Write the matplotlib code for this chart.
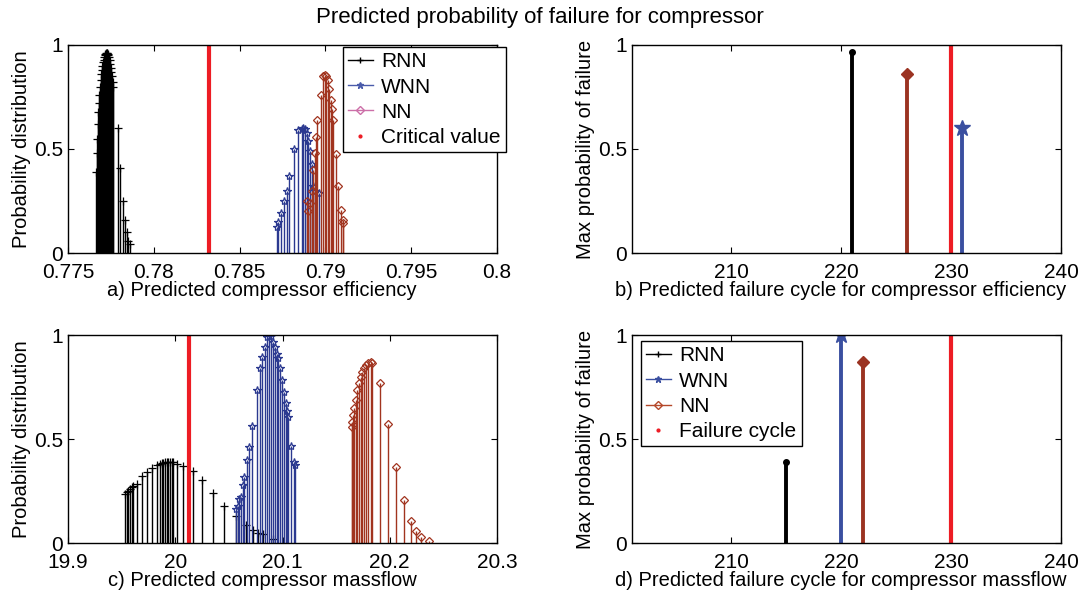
import numpy as np
from matplotlib import pyplot as plt
from matplotlib.lines import Line2D

plt.rcParams.update({'font.family': 'Liberation Sans'})

# colours
C_RNN = 'black'
C_WNN = '#2B3990'
C_NN = '#A1341F'
C_RED = '#ED1C24'

# a) predicted compressor efficiency
eff_rnn_x = [0.77663, 0.77666, 0.77670, 0.77673, 0.77676, 0.77680, 0.77683, 0.77686, 0.77690,
             0.77693, 0.77697, 0.77700, 0.77704, 0.77707, 0.77711, 0.77714, 0.77718, 0.77721,
             0.77725, 0.77728, 0.77732, 0.77735, 0.77739, 0.77742, 0.77746, 0.77749, 0.77753,
             0.77756, 0.77760, 0.77764, 0.77793, 0.77803, 0.77819, 0.77832, 0.77842, 0.77852,
             0.77861]
eff_rnn_p = [0.39, 0.48, 0.55, 0.62, 0.68, 0.72, 0.76, 0.80, 0.83, 0.86, 0.88, 0.90, 0.92,
             0.93, 0.94, 0.95, 0.955, 0.96, 0.963, 0.96, 0.955, 0.95, 0.94, 0.93, 0.91, 0.89,
             0.87, 0.85, 0.82, 0.80, 0.60, 0.41, 0.25, 0.16, 0.10, 0.06, 0.045]

eff_wnn_x = [0.78720, 0.78726, 0.78741, 0.78759, 0.78774, 0.78786, 0.78819, 0.78842, 0.78862,
             0.78872, 0.78881, 0.78891, 0.78901, 0.78910, 0.78920, 0.78930, 0.78939, 0.78965]
eff_wnn_p = [0.125, 0.15, 0.19, 0.25, 0.30, 0.37, 0.50, 0.59, 0.595, 0.60, 0.598, 0.575,
             0.54, 0.49, 0.43, 0.32, 0.30, 0.29]

eff_nn_x = [0.78895, 0.78901, 0.78910, 0.78920, 0.78930, 0.78940, 0.78945, 0.78953, 0.78975,
            0.78988, 0.78998, 0.79004, 0.79013, 0.79023, 0.79031, 0.79037, 0.79043, 0.79062,
            0.79075, 0.79091, 0.79101, 0.79105]
eff_nn_p = [0.25, 0.20, 0.24, 0.30, 0.40, 0.48, 0.56, 0.64, 0.76, 0.85, 0.855, 0.85, 0.83,
            0.79, 0.735, 0.69, 0.64, 0.475, 0.32, 0.205, 0.157, 0.145]
eff_critical = 0.7832

# c) predicted compressor massflow
mf_rnn_x = [19.9531, 19.9547, 19.9563, 19.9578, 19.9594, 19.9609, 19.9640, 19.9687, 19.9733,
            19.9780, 19.9827, 19.9858, 19.9874, 19.9889, 19.9905, 19.9920, 19.9935, 19.9951,
            19.9966, 19.9982, 20.0013, 20.0075, 20.0162, 20.0246, 20.0355, 20.0458, 20.0563,
            20.0657, 20.0728, 20.0775, 20.0821, 20.0915]
mf_rnn_p = [0.235, 0.245, 0.252, 0.26, 0.268, 0.275, 0.285, 0.32, 0.34, 0.36, 0.375, 0.38,
            0.384, 0.387, 0.389, 0.39, 0.391, 0.39, 0.389, 0.388, 0.382, 0.37, 0.347, 0.305,
            0.242, 0.178, 0.128, 0.085, 0.061, 0.05, 0.042, 0.02]

mf_wnn_x = [20.0566, 20.0582, 20.0597, 20.0610, 20.0629, 20.0644, 20.0666, 20.0688, 20.0719,
            20.0759, 20.0790, 20.0812, 20.0837, 20.0859, 20.0877, 20.0893, 20.0915, 20.0930,
            20.0946, 20.0961, 20.0977, 20.0998, 20.1014, 20.1030, 20.1045, 20.1054, 20.1079,
            20.1110, 20.1117]
mf_wnn_p = [0.165, 0.18, 0.213, 0.22, 0.278, 0.318, 0.398, 0.462, 0.562, 0.735, 0.843, 0.892,
            0.944, 0.992, 0.997, 0.995, 0.965, 0.944, 0.907, 0.89, 0.843, 0.786, 0.727, 0.671,
            0.636, 0.607, 0.467, 0.39, 0.375]

mf_nn_x = [20.1645, 20.1651, 20.1660, 20.1670, 20.1682, 20.1698, 20.1713, 20.1729, 20.1744,
           20.1760, 20.1779, 20.1800, 20.1822, 20.1838, 20.1909, 20.1987, 20.2058, 20.2133,
           20.2195, 20.2245, 20.2291, 20.2366]
mf_nn_p = [0.559, 0.583, 0.615, 0.647, 0.687, 0.735, 0.767, 0.80, 0.823, 0.84, 0.855, 0.867,
           0.868, 0.867, 0.767, 0.571, 0.366, 0.205, 0.106, 0.058, 0.029, 0.01]
mf_critical = 20.0128

# b) and d) max probability of failure vs cycle
cyc_eff = {'RNN': (221, 0.965), 'NN': (226, 0.86), 'WNN': (231, 0.60)}
cyc_mf = {'RNN': (215, 0.39), 'WNN': (220, 1.0), 'NN': (222, 0.87)}
failure_cycle = 230

fig = plt.figure(figsize=(10.92, 5.96), dpi=100)
ax_a = fig.add_axes([0.0623, 0.5755, 0.3928, 0.349])
ax_b = fig.add_axes([0.5788, 0.5755, 0.3928, 0.349])
ax_c = fig.add_axes([0.0623, 0.0889, 0.3928, 0.349])
ax_d = fig.add_axes([0.5788, 0.0889, 0.3928, 0.349])

FS = 14.5   # axis labels
TS = 15     # tick labels / legend
XLAB_Y = -0.135


def style(ax):
    ax.tick_params(direction='in', top=True, right=True, labelsize=TS, length=4, width=0.8)
    ax.tick_params(axis='x', pad=7)
    for s in ax.spines.values():
        s.set_linewidth(1.0)
    ax.set_ylim(0, 1)
    ax.set_yticks([0, 0.5, 1])
    ax.set_yticklabels(['0', '0.5', '1'])


def stems(ax, x, p, color, marker, ms, mfc='none'):
    ax.vlines(x, 0, p, colors=color, lw=1.0)
    ax.plot(x, p, ls='none', marker=marker, ms=ms, mec=color, mfc=mfc, mew=0.9)


def add_legend(ax, handles, labels, anchor):
    leg = ax.legend(handles, labels, loc='upper left', bbox_to_anchor=anchor, fontsize=TS,
                    fancybox=False, edgecolor='black', framealpha=1, borderpad=0.25,
                    labelspacing=0.3, handlelength=1.2, handletextpad=0.4, borderaxespad=0)
    leg.get_frame().set_linewidth(1.0)


# panel a
stems(ax_a, eff_rnn_x, eff_rnn_p, C_RNN, '+', 6)
stems(ax_a, eff_wnn_x, eff_wnn_p, C_WNN, '*', 6)
stems(ax_a, eff_nn_x, eff_nn_p, C_NN, 'D', 4.5)
ax_a.axvline(eff_critical, color=C_RED, lw=3)
ax_a.set_xlim(0.775, 0.8)
ax_a.set_xticks([0.775, 0.78, 0.785, 0.79, 0.795, 0.8])
ax_a.set_xticklabels(['0.775', '0.78', '0.785', '0.79', '0.795', '0.8'])
style(ax_a)
ax_a.set_ylabel('Probability distribution', fontsize=FS, labelpad=2)
ax_a.set_xlabel('a) Predicted compressor efficiency', fontsize=FS, labelpad=0)
ax_a.xaxis.set_label_coords(0.452, XLAB_Y)
h_a = [Line2D([], [], color=C_RNN, lw=1, marker='+', ms=5),
       Line2D([], [], color='#4A5BAA', lw=1, marker='*', ms=5),
       Line2D([], [], color='#CC6FA8', lw=1, marker='D', ms=4, mfc='none'),
       Line2D([], [], color=C_RED, ls='none', marker='.', ms=4)]
add_legend(ax_a, h_a, ['RNN', 'WNN', 'NN', 'Critical value'], (0.64, 0.99))

# panel c
stems(ax_c, mf_rnn_x, mf_rnn_p, C_RNN, '+', 6)
stems(ax_c, mf_wnn_x, mf_wnn_p, C_WNN, '*', 6)
stems(ax_c, mf_nn_x, mf_nn_p, C_NN, 'D', 4.5)
ax_c.axvline(mf_critical, color=C_RED, lw=3)
ax_c.set_xlim(19.9, 20.3)
ax_c.set_xticks([19.9, 20.0, 20.1, 20.2, 20.3])
ax_c.set_xticklabels(['19.9', '20', '20.1', '20.2', '20.3'])
style(ax_c)
ax_c.set_ylabel('Probability distribution', fontsize=FS, labelpad=2)
ax_c.set_xlabel('c) Predicted compressor massflow', fontsize=FS, labelpad=0)
ax_c.xaxis.set_label_coords(0.452, XLAB_Y)

# panels b and d
marks = {'RNN': (C_RNN, 'o', 4), 'WNN': ('#3A4FA0', '*', 12), 'NN': ('#9B3322', 'D', 6)}


def cycle_panel(ax, data, xlabel):
    for name, (cx, cp) in data.items():
        col, mk, ms = marks[name]
        ax.vlines(cx, 0, cp, colors=col, lw=2.8)
        ax.plot([cx], [cp], ls='none', marker=mk, ms=ms, color=col)
    ax.axvline(failure_cycle, color=C_RED, lw=3)
    ax.set_xlim(201, 240)
    ax.set_xticks([210, 220, 230, 240])
    style(ax)
    ax.set_ylabel('Max probability of failure', fontsize=FS, labelpad=2)
    ax.set_xlabel(xlabel, fontsize=FS, labelpad=0)
    ax.xaxis.set_label_coords(0.487, XLAB_Y)


cycle_panel(ax_b, cyc_eff, 'b) Predicted failure cycle for compressor efficiency')
cycle_panel(ax_d, cyc_mf, 'd) Predicted failure cycle for compressor massflow')

h_d = [Line2D([], [], color=C_RNN, lw=1, marker='+', ms=5),
       Line2D([], [], color='#3A4FA0', lw=1, marker='*', ms=5),
       Line2D([], [], color='#B5482A', lw=1, marker='D', ms=4, mfc='none'),
       Line2D([], [], color=C_RED, ls='none', marker='.', ms=4)]
add_legend(ax_d, h_d, ['RNN', 'WNN', 'NN', 'Failure cycle'], (0.02, 0.97))

fig.text(0.494, 0.97, 'Predicted probability of failure for compressor', ha='center',
         va='center', fontsize=16)

fig.savefig('out.png', dpi=100)
